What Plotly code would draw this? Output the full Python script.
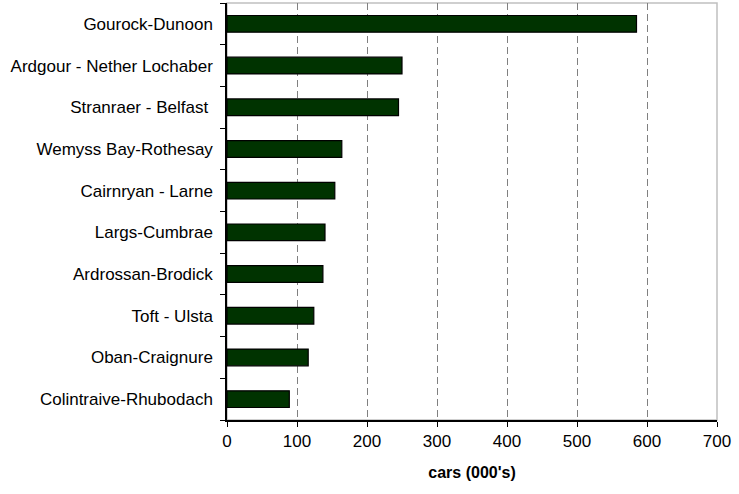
import plotly.graph_objs as go

# routes and cars carried (thousands)
routes = ["Gourock-Dunoon", "Ardgour - Nether Lochaber", "Stranraer - Belfast ",
          "Wemyss Bay-Rothesay", "Cairnryan - Larne", "Largs-Cumbrae",
          "Ardrossan-Brodick", "Toft - Ulsta", "Oban-Craignure",
          "Colintraive-Rhubodach"]
cars = [585, 250, 245, 164, 154, 140, 137, 124, 116, 89]
xticks = [0, 100, 200, 300, 400, 500, 600, 700]

bars = go.Bar(x=cars, y=routes, orientation="h",
              marker=dict(color="#003300", line=dict(color="#000000", width=1.2)))

font = "Liberation Sans, Arial, sans-serif"

layout = go.Layout(
    width=739, height=494,
    margin=dict(l=227, r=22, t=3, b=74),
    paper_bgcolor="white", plot_bgcolor="white",
    bargap=0.6,
    showlegend=False,
    font=dict(family=font, size=17, color="#000000"),
    xaxis=dict(range=[0, 700], tickvals=xticks, ticktext=[str(v) for v in xticks],
               showline=True, linecolor="#000000", linewidth=1.5,
               ticks="outside", ticklen=5, tickcolor="#000000",
               showgrid=True, gridcolor="#808080", griddash="7px,4px", gridwidth=1.2,
               zeroline=False,
               title=dict(text="<b>cars (000's)</b>", standoff=17,
                          font=dict(family=font, size=16))),
    yaxis=dict(categoryorder="array", categoryarray=routes[::-1],
               showline=True, linecolor="#000000", linewidth=1.5,
               ticks="outside", ticklen=5, tickcolor="#000000", tickson="boundaries",
               showgrid=False, zeroline=False, ticklabelstandoff=9),
    shapes=[dict(type="rect", xref="paper", yref="paper", x0=0, x1=1, y0=0, y1=1,
                 line=dict(color="#c0c0c0", width=1.5), layer="below")],
)

fig = go.Figure(data=[bars], layout=layout)
# drop the browser's default page margin so the figure sits at the window corner
fig.write_html("out.html", config={"displayModeBar": False},
               post_script="document.body.style.margin='0';")
